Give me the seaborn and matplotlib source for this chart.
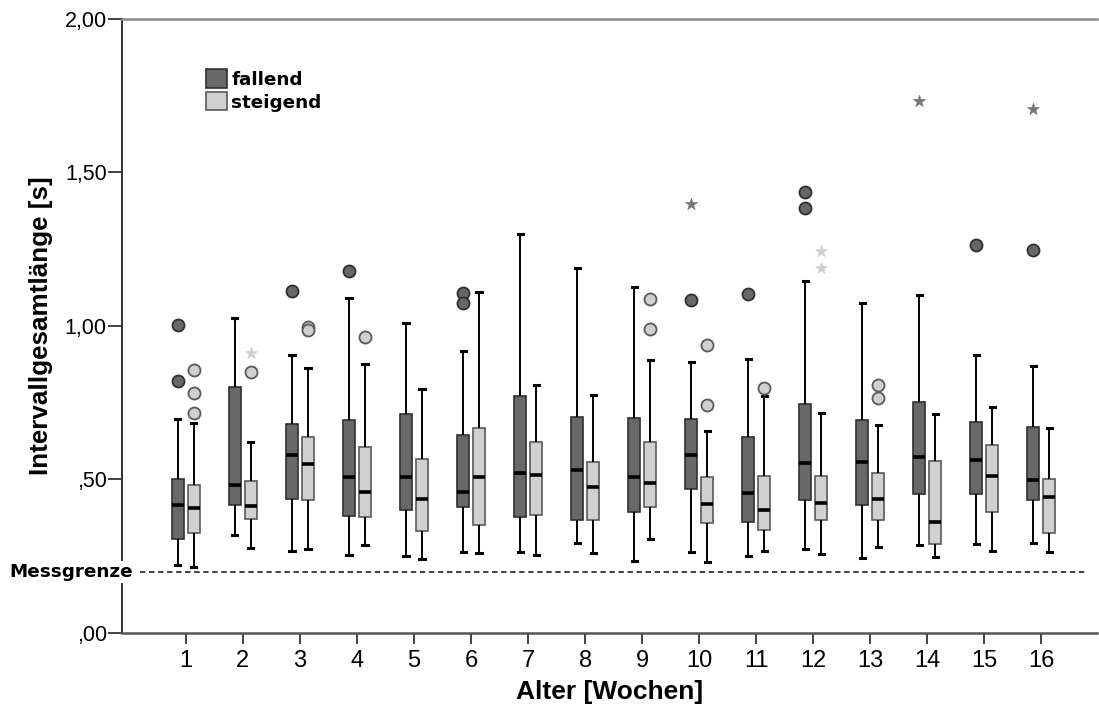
import numpy as np
import pandas as pd
import matplotlib
matplotlib.use("Agg")
import matplotlib.pyplot as plt
from matplotlib.patches import Patch
import seaborn as sns

# ---------------- data ----------------
weeks = list(range(1, 17))
groups = ["fallend", "steigend"]

# five-number summaries: lower whisker, Q1, median, Q3, upper whisker
fallend_lo  = [0.221, 0.318, 0.268, 0.253, 0.251, 0.264, 0.264, 0.294, 0.235, 0.263, 0.252, 0.273, 0.245, 0.287, 0.290, 0.292]
fallend_q1  = [0.306, 0.418, 0.436, 0.381, 0.401, 0.409, 0.379, 0.367, 0.393, 0.469, 0.362, 0.432, 0.416, 0.452, 0.454, 0.433]
fallend_med = [0.418, 0.481, 0.579, 0.509, 0.507, 0.458, 0.522, 0.531, 0.509, 0.581, 0.455, 0.553, 0.556, 0.574, 0.565, 0.498]
fallend_q3  = [0.502, 0.800, 0.681, 0.694, 0.713, 0.646, 0.773, 0.705, 0.699, 0.698, 0.638, 0.746, 0.694, 0.753, 0.686, 0.671]
fallend_hi  = [0.697, 1.025, 0.906, 1.092, 1.009, 0.919, 1.299, 1.188, 1.128, 0.882, 0.893, 1.148, 1.076, 1.100, 0.904, 0.871]

steigend_lo  = [0.216, 0.276, 0.273, 0.287, 0.241, 0.260, 0.255, 0.260, 0.305, 0.230, 0.268, 0.257, 0.279, 0.248, 0.268, 0.264]
steigend_q1  = [0.325, 0.370, 0.432, 0.377, 0.332, 0.353, 0.384, 0.367, 0.411, 0.357, 0.336, 0.368, 0.368, 0.291, 0.395, 0.327]
steigend_med = [0.406, 0.413, 0.549, 0.458, 0.438, 0.509, 0.514, 0.477, 0.488, 0.421, 0.402, 0.423, 0.436, 0.362, 0.511, 0.444]
steigend_q3  = [0.481, 0.496, 0.639, 0.605, 0.566, 0.668, 0.623, 0.556, 0.623, 0.507, 0.511, 0.512, 0.522, 0.559, 0.612, 0.502]
steigend_hi  = [0.685, 0.623, 0.864, 0.876, 0.796, 1.112, 0.807, 0.776, 0.888, 0.657, 0.773, 0.716, 0.679, 0.714, 0.736, 0.669]

# outliers (circles) and extreme values (stars)
out_week  = [1, 1, 3, 4, 6, 6, 10, 11, 12, 12, 15, 16,
             1, 1, 1, 2, 3, 3, 4, 9, 9, 10, 10, 11, 13, 13]
out_group = ["fallend"] * 12 + ["steigend"] * 14
out_value = [1.003, 0.821, 1.115, 1.179, 1.108, 1.074, 1.085, 1.104, 1.436, 1.385, 1.264, 1.247,
             0.857, 0.781, 0.716, 0.849, 0.996, 0.987, 0.965, 1.088, 0.991, 0.937, 0.744, 0.797, 0.808, 0.765]

ext_week  = [10, 14, 16, 2, 12, 12]
ext_group = ["fallend", "fallend", "fallend", "steigend", "steigend", "steigend"]
ext_value = [1.396, 1.733, 1.707, 0.913, 1.245, 1.189]

ytick_values = [0.0, 0.5, 1.0, 1.5, 2.0]
ytick_labels = [",00", ",50", "1,00", "1,50", "2,00"]
limit_value = 0.2

# ---------------- build long table ----------------
rows = []
summ = {
    "fallend": [fallend_lo, fallend_q1, fallend_med, fallend_q3, fallend_hi],
    "steigend": [steigend_lo, steigend_q1, steigend_med, steigend_q3, steigend_hi],
}
for g in groups:
    for i, w in enumerate(weeks):
        for arr in summ[g]:
            rows.append({"Alter": w, "Richtung": g, "Wert": arr[i]})
df = pd.DataFrame(rows)

palette = {"fallend": "#686868", "steigend": "#d0d0d0"}
edge = {"fallend": "#303030", "steigend": "#5a5a5a"}

BOX_WIDTH = 0.56
GAP = 0.25

# ---------------- figure ----------------
fig = plt.figure(figsize=(10.99, 7.13), dpi=100)
ax = fig.add_axes([0.111, 0.1122, 0.887, 0.8612])

sns.boxplot(
    data=df, x="Alter", y="Wert", hue="Richtung",
    order=weeks, hue_order=groups, palette=palette,
    whis=(0, 100), width=BOX_WIDTH, gap=GAP, dodge=True,
    linecolor="#303030", linewidth=1.2, fliersize=0, legend=False,
    medianprops=dict(color="black", linewidth=2.6),
    whiskerprops=dict(color="black", linewidth=1.4),
    capprops=dict(color="black", linewidth=2.2),
    ax=ax,
)

# box edge colours per group
for p in ax.patches:
    fc = matplotlib.colors.to_hex(p.get_facecolor())
    if fc.lower() == palette["steigend"]:
        p.set_edgecolor(edge["steigend"])
    else:
        p.set_edgecolor(edge["fallend"])

# shorten the caps
for line in ax.lines:
    xd = np.asarray(line.get_xdata(), dtype=float)
    yd = np.asarray(line.get_ydata(), dtype=float)
    if len(xd) == 2 and yd[0] == yd[1] and abs(xd[1] - xd[0]) > 0:
        if abs(line.get_linewidth() - 2.2) < 1e-6:
            c = xd.mean()
            line.set_xdata([c - 0.045, c + 0.045])

# outliers / extremes positioned on the same dodge as the boxes
offset = {"fallend": -BOX_WIDTH / 4, "steigend": BOX_WIDTH / 4}
odf = pd.DataFrame({"w": out_week, "g": out_group, "v": out_value})
odf["x"] = [weeks.index(w) + offset[g] for w, g in zip(odf["w"], odf["g"])]
edf = pd.DataFrame({"w": ext_week, "g": ext_group, "v": ext_value})
edf["x"] = [weeks.index(w) + offset[g] for w, g in zip(edf["w"], edf["g"])]

for g in groups:
    sub = odf[odf["g"] == g]
    sns.scatterplot(x=sub["x"], y=sub["v"], ax=ax, s=75, marker="o",
                    color=palette[g], edgecolor=edge[g], linewidth=1.3,
                    legend=False, zorder=5)
star_col = {"fallend": "#777777", "steigend": "#cfcfcf"}
for g in groups:
    sub = edf[edf["g"] == g]
    sns.scatterplot(x=sub["x"], y=sub["v"], ax=ax, s=80, marker="*",
                    color=star_col[g], edgecolor=star_col[g], linewidth=0.5,
                    legend=False, zorder=5)

# ---------------- axes styling ----------------
ax.set_xlim(-1.12, 15.97)
ax.set_ylim(0, 2.0)
ax.set_xticks(range(len(weeks)))
ax.set_xticklabels([str(w) for w in weeks], fontsize=17, family="Liberation Sans")
ax.set_yticks(ytick_values)
ax.set_yticklabels(ytick_labels, fontsize=15.5, family="Liberation Sans")
ax.tick_params(axis="y", length=10, width=1.3, pad=1, color="#333333")
ax.tick_params(axis="x", length=8, width=1.3, pad=4, color="#333333")

ax.set_xlabel("Alter [Wochen]", fontsize=19, fontweight="bold", family="Liberation Sans", labelpad=6)
ax.set_ylabel("Intervallgesamtlänge [s]", fontsize=18.7, fontweight="bold", family="Liberation Sans", labelpad=8)

ax.spines["right"].set_visible(False)
ax.spines["top"].set_color("#8a8a8a")
ax.spines["top"].set_linewidth(1.8)
ax.spines["left"].set_color("#333333")
ax.spines["left"].set_linewidth(1.4)
ax.spines["bottom"].set_color("#555555")
ax.spines["bottom"].set_linewidth(1.8)
ax.grid(False)
ax.set_facecolor("white")

# measurement limit line
trans = ax.get_yaxis_transform()
ax.plot([0.018, 0.991], [limit_value, limit_value], transform=trans,
        color="#333333", linewidth=1.3, linestyle=(0, (3, 2)), zorder=1, clip_on=False)
ax.text(0.0113, limit_value, "Messgrenze", transform=trans, ha="right", va="center",
        fontsize=13.2, fontweight="bold", family="DejaVu Sans", clip_on=False,
        bbox=dict(facecolor="white", edgecolor="none", pad=1.5), zorder=6)

# legend
handles = [Patch(facecolor=palette[g], edgecolor=edge[g], linewidth=1.2, label=g) for g in groups]
leg = ax.legend(handles=handles, loc="upper left", bbox_to_anchor=(0.086, 0.918),
                frameon=False, handlelength=1.15, handleheight=1.15,
                handletextpad=0.25, labelspacing=0.2, borderpad=0, borderaxespad=0,
                prop=dict(family="DejaVu Sans", weight="bold", size=13.2))

fig.savefig("out.png", dpi=100, facecolor="white")
